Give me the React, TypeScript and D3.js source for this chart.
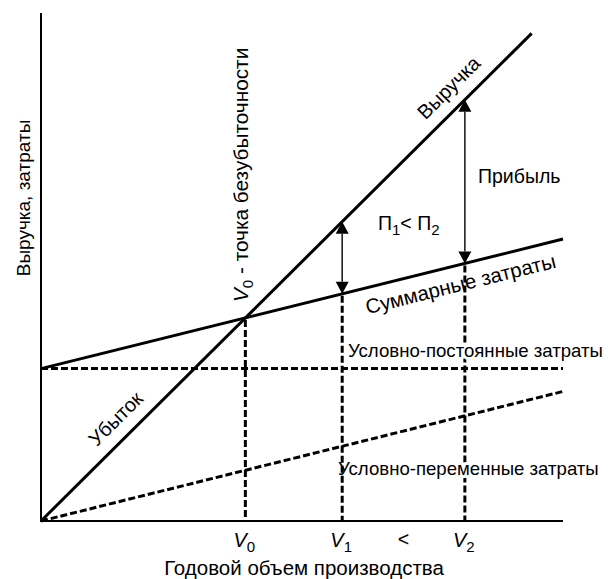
import React from 'react';
import * as d3 from 'd3';

// economic break-even chart, values in relative units (0..100)
const volumeDomain = [0, 100];
const moneyDomain = [0, 100];
const revenueVolume = [0, 94];
const revenueValues = [0, 96];
const costVolume = [0, 100];
const fixedCosts = [30, 30];
const variableCosts = [0, 25.5];
const totalCosts = fixedCosts.map((f, i) => f + variableCosts[i]);
const compareVolumes = [57.7, 81.2];
const volumeSubs = ['0', '1', '2'];

const W = 608, H = 579;
const FONT = "'Liberation Sans', Arial, Helvetica, sans-serif";

const x = d3.scaleLinear().domain(volumeDomain).range([41, 563]);
const y = d3.scaleLinear().domain(moneyDomain).range([521, 13]);

const revSlope = revenueValues[1] / revenueVolume[1];
const varSlope = variableCosts[1] / costVolume[1];
const revenueAt = (v: number) => v * revSlope;
const totalAt = (v: number) => fixedCosts[0] + v * varSlope;
const breakEven = fixedCosts[0] / (revSlope - varSlope);
const markVolumes = [breakEven, ...compareVolumes];

const line = d3.line<[number, number]>()
    .x(d => x(d[0]))
    .y(d => y(d[1]));

const pts = (vs: number[], ms: number[]) => vs.map((v, i) => [v, ms[i]] as [number, number]);

// label placed along a line, offset along the normal (positive = above)
function alongLine(v: number, f: (v: number) => number, off: number) {
    const px = x(v), py = y(f(v));
    const dx = x(v + 1) - px, dy = y(f(v + 1)) - py;
    const len = Math.hypot(dx, dy);
    const ux = dx / len, uy = dy / len;
    const nx = uy, ny = -ux;
    const ang = Math.atan2(uy, ux) * 180 / Math.PI;
    return `translate(${px + nx * off},${py + ny * off}) rotate(${ang})`;
}

function Arrow({ v }: { v: number }) {
    const cx = x(v);
    const top = y(revenueAt(v));
    const bot = y(totalAt(v));
    const hl = 12, hw = 6.5;
    return (
        <g>
            <line x1={cx} x2={cx} y1={top + hl} y2={bot - hl} stroke="#222" strokeWidth={1.6} />
            <path d={`M${cx},${top}L${cx - hw},${top + hl}L${cx + hw},${top + hl}Z`} fill="#000" />
            <path d={`M${cx},${bot}L${cx - hw},${bot - hl}L${cx + hw},${bot - hl}Z`} fill="#000" />
        </g>
    );
}

const halo = { paintOrder: 'stroke', stroke: '#fff', strokeWidth: 6, strokeLinejoin: 'round' } as any;

export default function App() {
    const x0 = x(0), y0 = y(0);
    return (
        <svg width={W} height={H} style={{ position: 'absolute', left: 0, top: 0, background: '#fff' }}
            fontFamily={FONT} fontSize={19.5}>
            <rect width={W} height={H} fill="#fff" />

            {/* dashed guides */}
            <path d={line(pts(costVolume, fixedCosts)) || ''} fill="none" stroke="#000" strokeWidth={3} strokeDasharray="7,3" />
            <path d={line(pts(costVolume, variableCosts)) || ''} fill="none" stroke="#000" strokeWidth={3} strokeDasharray="7,3" />
            {[markVolumes[0], markVolumes[2]].map((v, i) => (
                <line key={i} x1={x(v)} x2={x(v)} y1={y(v === breakEven ? revenueAt(v) : totalAt(v)) + 2} y2={y0}
                    stroke="#000" strokeWidth={3} strokeDasharray="7,3" />
            ))}

            <text x={348} y={357} fontSize={18.6} style={halo}>Условно-постоянные затраты</text>
            <text x={338} y={475} fontSize={18.6} style={halo}>Условно-переменные затраты</text>

            <line x1={x(markVolumes[1])} x2={x(markVolumes[1])} y1={y(totalAt(markVolumes[1])) + 2} y2={y0}
                stroke="#000" strokeWidth={3} strokeDasharray="7,3" />

            {/* solid lines */}
            <path d={line(pts(costVolume, totalCosts)) || ''} fill="none" stroke="#000" strokeWidth={3} />
            <path d={line(pts(revenueVolume, revenueValues)) || ''} fill="none" stroke="#000" strokeWidth={3} />

            {/* axes */}
            <line x1={x0} x2={x0} y1={y(moneyDomain[1])} y2={y0 + 1} stroke="#000" strokeWidth={2} />
            <line x1={x0 - 1} x2={x(volumeDomain[1])} y1={y0} y2={y0} stroke="#000" strokeWidth={2} />

            {compareVolumes.map((v, i) => <Arrow key={i} v={v} />)}

            {/* line labels */}
            <text transform={alongLine(80.8, revenueAt, 13)} textAnchor="middle" fontSize={20}>Выручка</text>
            <text transform={alongLine(17, revenueAt, 13)} textAnchor="middle" fontSize={20}>Убыток</text>
            <text transform={alongLine(79.5, totalAt, -26)} textAnchor="middle" fontSize={20.5}>Суммарные затраты</text>

            <text x={478} y={183}>Прибыль</text>
            <text x={378} y={230}>П<tspan fontSize={15} dy={5}>1</tspan><tspan dy={-5}>&lt; П</tspan><tspan fontSize={15} dy={5}>2</tspan></text>

            <text transform={`translate(248,302) rotate(-90)`} fontSize={20.8}>
                <tspan fontStyle="italic">V</tspan><tspan fontSize={15} dy={5}>0</tspan><tspan dy={-5}> - точка безубыточности</tspan>
            </text>

            {/* axis titles */}
            <text transform={`translate(30,198) rotate(-90)`} textAnchor="middle" fontSize={19}>Выручка,  затраты</text>
            <text x={304} y={575} textAnchor="middle" fontSize={20.5}>Годовой объем производства</text>

            {/* volume tick labels */}
            {markVolumes.map((v, i) => (
                <text key={i} x={x(v) - 1} y={547} textAnchor="middle" fontSize={20}>
                    <tspan fontStyle="italic">V</tspan><tspan fontSize={15} dy={5}>{volumeSubs[i]}</tspan>
                </text>
            ))}
            <text x={(x(markVolumes[1]) + x(markVolumes[2])) / 2} y={546} textAnchor="middle">&lt;</text>
        </svg>
    );
}
